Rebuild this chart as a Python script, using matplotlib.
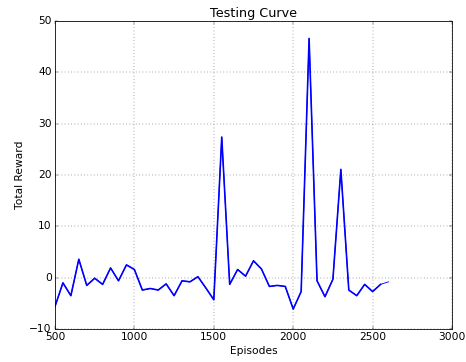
import matplotlib
matplotlib.use("Agg")
import matplotlib.pyplot as plt

# episodes tested every 50 steps
episodes = list(range(500, 2650, 50))
rewards = [-5.6, -1.0, -3.5, 3.6, -1.5, -0.1, -1.3, 1.9, -0.6, 2.5,
           1.6, -2.4, -2.1, -2.4, -1.2, -3.5, -0.6, -0.8, 0.2, -2.0,
           -4.3, 27.4, -1.3, 1.6, 0.3, 3.3, 1.7, -1.7, -1.5, -1.7,
           -6.1, -2.7, 46.6, -0.6, -3.7, -0.3, 21.1, -2.4, -3.5, -1.3,
           -2.7, -1.3, -0.8]

plt.style.use('classic')
plt.rcParams['font.size'] = 13.2
dpi = 58.25
fig = plt.figure(figsize=(466 / dpi, 362 / dpi), dpi=dpi, facecolor='w')
ax = fig.add_subplot(111)
fig.subplots_adjust(left=0.118, right=0.970, bottom=0.091, top=0.942)

# the curve was redrawn point by point, so all but the last segment look heavier
ax.plot(episodes, rewards, color='b', linewidth=1.1)
ax.plot(episodes[:-1], rewards[:-1], color='b', linewidth=2.0)

ax.set_xlim(500, 3000)
ax.set_ylim(-10, 50)
ax.set_title("Testing Curve")
ax.set_xlabel("Episodes")
ax.set_ylabel("Total Reward")
ax.grid(True)

fig.savefig("out.png", dpi=dpi, facecolor='w')
